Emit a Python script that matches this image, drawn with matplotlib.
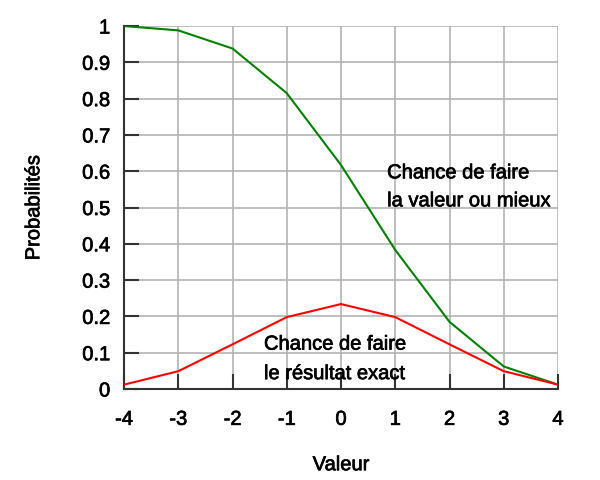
import matplotlib
matplotlib.use('Agg')
import matplotlib.pyplot as plt
import matplotlib.patheffects as pe

plt.rcParams['font.family'] = ['Liberation Sans', 'DejaVu Sans']

valeurs = [-4, -3, -2, -1, 0, 1, 2, 3, 4]
# chance de faire la valeur ou mieux
ou_mieux = [0.9999, 0.988, 0.938, 0.815, 0.617, 0.383, 0.185, 0.062, 0.012]
# chance de faire le résultat exact
exact = [0.012, 0.049, 0.123, 0.198, 0.234, 0.198, 0.123, 0.049, 0.012]

# texte un peu plus gras, comme dans l'original
gras = [pe.withStroke(linewidth=0.5, foreground='black')]

fig = plt.figure(figsize=(6, 4.8), dpi=100)
ax = fig.add_axes([0.2067, 0.1896, 0.7233, 0.7562])

ax.plot(valeurs, ou_mieux, color='#008000', lw=1.5, zorder=3)
ax.plot(valeurs, exact, color='#ff0000', lw=1.5, zorder=3)

ax.set_xlim(-4, 4)
ax.set_ylim(0, 1)
ax.set_xticks(valeurs)
ax.set_xticklabels([str(v) for v in valeurs])
yt = [i / 10 for i in range(11)]
ax.set_yticks(yt)
ax.set_yticklabels(['0', '0.1', '0.2', '0.3', '0.4', '0.5', '0.6', '0.7', '0.8', '0.9', '1'])
ax.grid(True, color='#b3b3b3', lw=1.2, zorder=0)
for s in ['top', 'right']:
    ax.spines[s].set_visible(False)
for s in ['left', 'bottom']:
    ax.spines[s].set_color('#333333')
    ax.spines[s].set_linewidth(1.5)
ax.tick_params(direction='in', length=11, width=1.5, color='#333333',
               labelsize=14.5)
ax.tick_params(axis='y', pad=10)
ax.tick_params(axis='x', pad=15)
for lab in ax.get_xticklabels() + ax.get_yticklabels():
    lab.set_path_effects(gras)

ax.set_xlabel('Valeur', fontsize=14.5, labelpad=19, path_effects=gras)
ax.set_ylabel('Probabilités', fontsize=14.5, labelpad=28, path_effects=gras)

ax.text(0.85, 0.557, 'Chance de faire\nla valeur ou mieux', fontsize=14.5,
        va='center', ha='left', linespacing=1.6, zorder=4, path_effects=gras)
ax.text(-1.42, 0.083, 'Chance de faire\nle résultat exact', fontsize=14.5,
        va='center', ha='left', linespacing=1.7, zorder=4, path_effects=gras)

fig.savefig('out.png', dpi=100)
